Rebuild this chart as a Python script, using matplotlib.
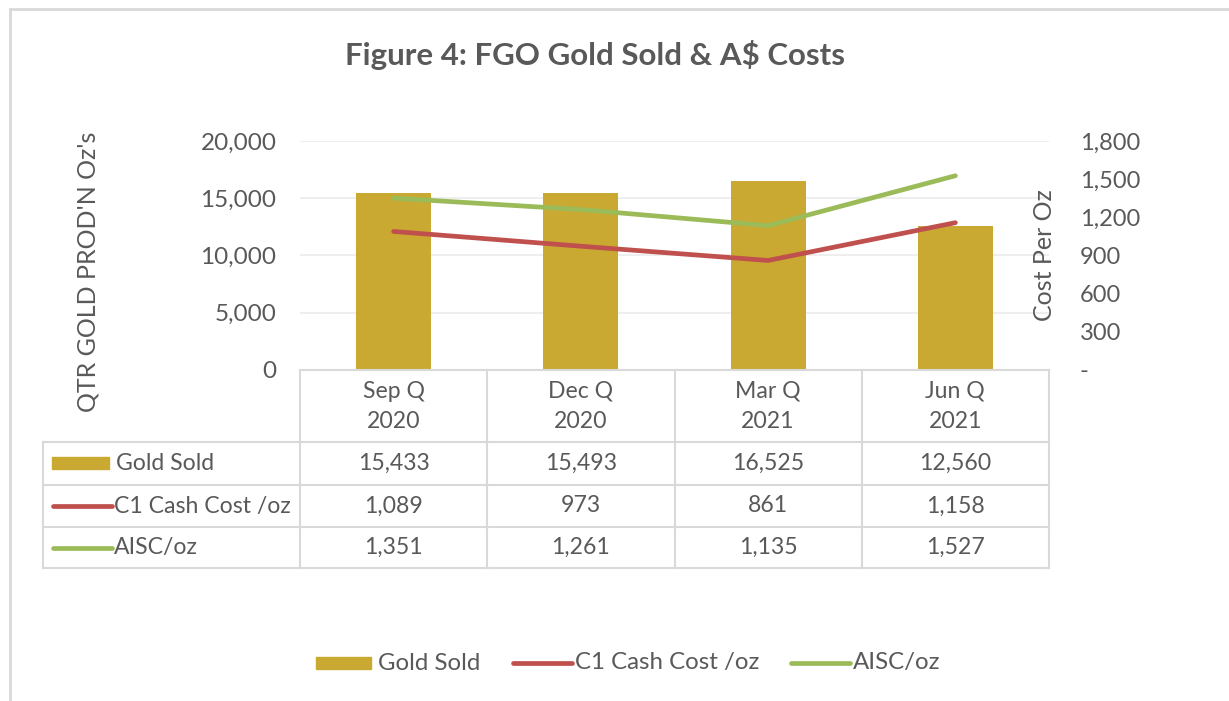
import matplotlib
matplotlib.use("Agg")
import matplotlib.pyplot as plt
from matplotlib.lines import Line2D
from matplotlib.patches import Rectangle
from matplotlib.ticker import FuncFormatter, FixedLocator

# ---- data ----
categories = ["Sep Q\n2020", "Dec Q\n2020", "Mar Q\n2021", "Jun Q\n2021"]
gold_sold = [15433, 15493, 16525, 12560]
c1_cost = [1089, 973, 861, 1158]
aisc = [1351, 1261, 1135, 1527]
left_ticks = [0, 5000, 10000, 15000, 20000]
right_ticks = [0, 300, 600, 900, 1200, 1500, 1800]
series_names = ["Gold Sold", "C1 Cash Cost /oz", "AISC/oz"]
title = "Figure 4: FGO Gold Sold & A$ Costs"

GOLD = "#C9A932"
RED = "#C0504D"
GREEN = "#9BBB59"
TXT = "#595959"
GRID = "#D9D9D9"
FONT = ["Lato", "DejaVu Sans"]
plt.rcParams["font.family"] = FONT
FS = 16.6

W, H = 1229, 701
fig = plt.figure(figsize=(W / 100, H / 100), dpi=100)
fig.patch.set_facecolor("white")


def fx(x):
    return x / W


def fy(y):
    return 1 - y / H


def fline(x0, y0, x1, y1, color=GRID, lw=1.5, **kw):
    fig.add_artist(Line2D([fx(x0), fx(x1)], [fy(y0), fy(y1)], transform=fig.transFigure,
                          color=color, lw=lw, **kw))


# outer chart border
fline(10, 9, W, 9, lw=2)
fline(10, 9, 10, H, lw=2)

# ---- main axes ----
L, R, T, B = 300, 1049, 141, 370
ax = fig.add_axes([fx(L), fy(B), fx(R) - fx(L), (B - T) / H])
x = list(range(len(categories)))
ax.set_xlim(-0.5, len(categories) - 0.5)
ax.set_ylim(0, 20000)
ax.bar(x, gold_sold, width=0.4, color=GOLD, zorder=2)
ax.yaxis.set_major_locator(FixedLocator(left_ticks))
ax.yaxis.set_major_formatter(FuncFormatter(lambda v, p: f"{int(v):,}"))
ax.tick_params(axis="y", length=0, pad=17, labelsize=17.5, labelcolor=TXT)
ax.set_xticks([])
for s in ax.spines.values():
    s.set_visible(False)
ax.grid(axis="y", color="#EBEBEB", lw=1.2, zorder=0)
ax.set_axisbelow(True)

ax2 = ax.twinx()
ax2.set_ylim(0, 1800)
ax2.plot(x, c1_cost, color=RED, lw=3.4, solid_capstyle="round", zorder=3)
ax2.plot(x, aisc, color=GREEN, lw=3.4, solid_capstyle="round", zorder=3)
ax2.yaxis.set_major_locator(FixedLocator(right_ticks))
ax2.yaxis.set_major_formatter(FuncFormatter(lambda v, p: "-" if v == 0 else f"{int(v):,}"))
ax2.tick_params(axis="y", length=0, pad=22, labelsize=17, labelcolor=TXT)
for s in ax2.spines.values():
    s.set_visible(False)

# axis titles
fig.text(fx(88), fy(272), "QTR GOLD PROD'N Oz's", rotation=90, ha="center", va="center",
         fontsize=18, color=TXT)
fig.text(fx(1045), fy(255), "Cost Per Oz", rotation=90, ha="center", va="center",
         fontsize=18, color=TXT)

# title
fig.text(fx(595), fy(55), title, ha="center", va="center", fontsize=22.5, fontweight="bold",
         color=TXT)

# ---- data table ----
TL = 43
row_edges = [442, 485, 527, 568]
col_w = (R - L) / len(categories)
col_edges = [L + i * col_w for i in range(len(categories) + 1)]
fline(L, B, R, B)
for ye in row_edges:
    fline(TL, ye, R, ye)
fline(TL, row_edges[0], TL, row_edges[-1])
for xe in col_edges:
    fline(xe, B, xe, row_edges[-1])

for i, c in enumerate(categories):
    cx = (col_edges[i] + col_edges[i + 1]) / 2
    l1, l2 = c.split("\n")
    fig.text(fx(cx), fy(391), l1, ha="center", va="center", fontsize=FS, color=TXT)
    fig.text(fx(cx), fy(422), l2, ha="center", va="center", fontsize=FS, color=TXT)

series_vals = [gold_sold, c1_cost, aisc]
series_cols = [GOLD, RED, GREEN]
for r, (name, vals, col) in enumerate(zip(series_names, series_vals, series_cols)):
    yc = (row_edges[r] + row_edges[r + 1]) / 2
    if r == 0:
        fig.add_artist(Rectangle((fx(52), fy(469)), fx(109) - fx(52), (469 - 457) / H,
                                 transform=fig.transFigure, color=col))
        tx = 116
    else:
        fline(53, yc, 112, yc, color=col, lw=3.4, solid_capstyle="round")
        tx = 114
    fig.text(fx(tx), fy(yc), name, ha="left", va="center", fontsize=FS, color=TXT)
    for i, v in enumerate(vals):
        cx = (col_edges[i] + col_edges[i + 1]) / 2
        fig.text(fx(cx), fy(yc), f"{v:,}", ha="center", va="center", fontsize=FS, color=TXT)

# ---- legend ----
ly = 663
fig.add_artist(Rectangle((fx(316), fy(669)), fx(371) - fx(316), 12 / H,
                         transform=fig.transFigure, color=GOLD))
fig.text(fx(378), fy(ly), series_names[0], ha="left", va="center", fontsize=17.3, color=TXT)
fline(513, ly, 572, ly, color=RED, lw=3.4, solid_capstyle="round")
fig.text(fx(575), fy(ly), series_names[1], ha="left", va="center", fontsize=17.3, color=TXT)
fline(791, ly, 850, ly, color=GREEN, lw=3.4, solid_capstyle="round")
fig.text(fx(853), fy(ly), series_names[2], ha="left", va="center", fontsize=17.3, color=TXT)

fig.savefig("out.png", dpi=100)
